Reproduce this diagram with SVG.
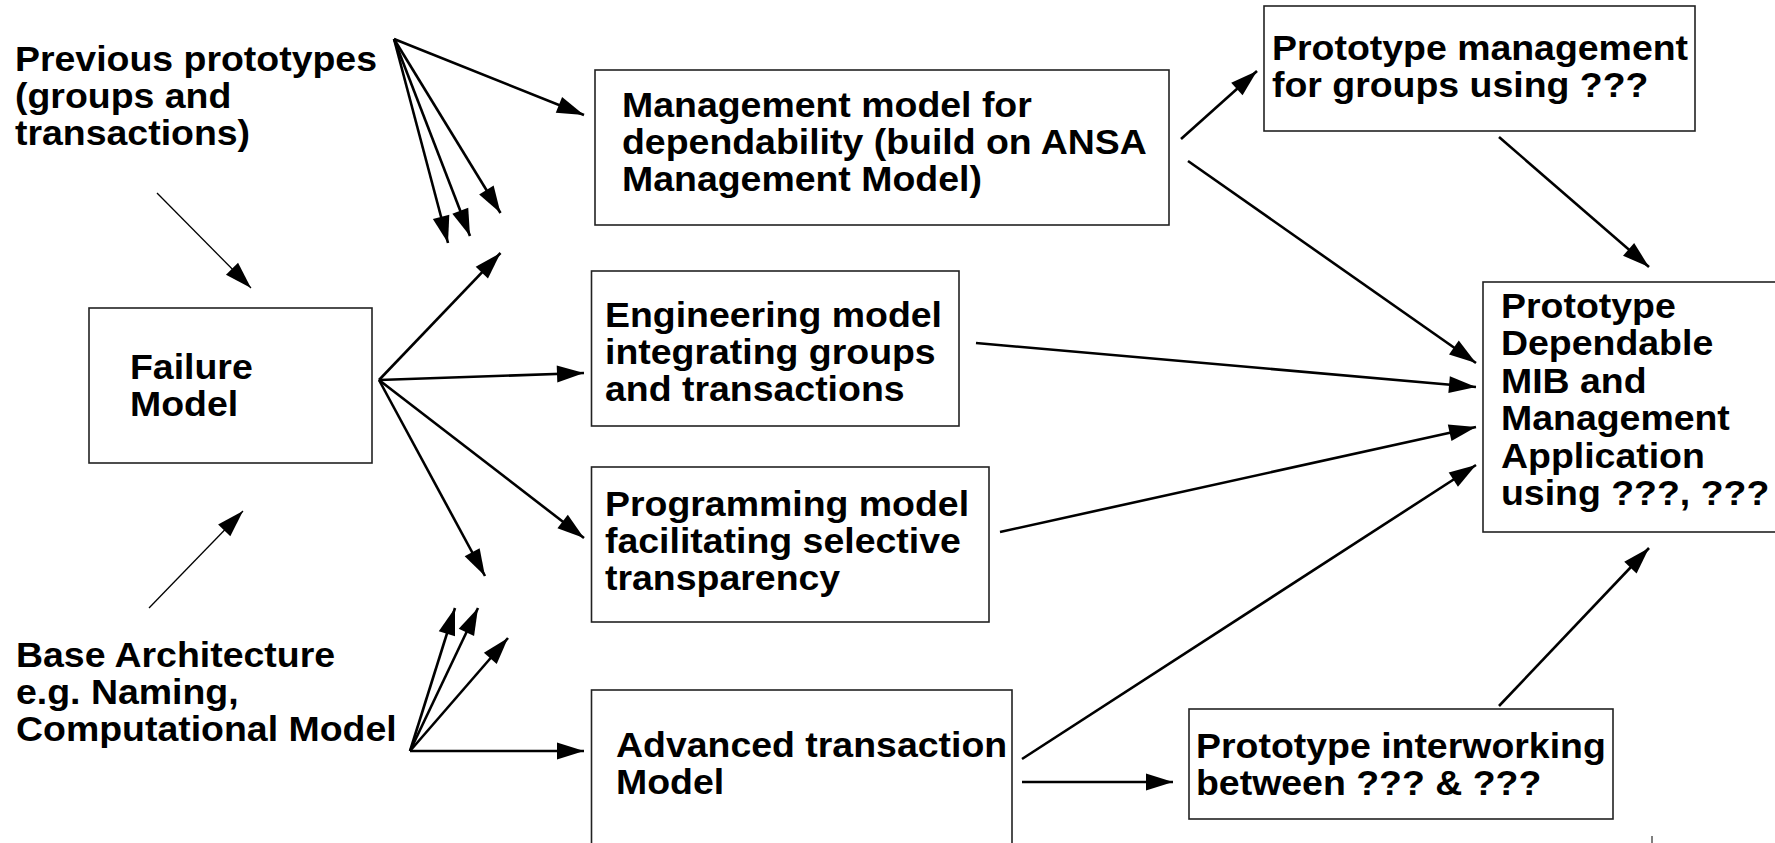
<svg xmlns="http://www.w3.org/2000/svg" width="1775" height="843" viewBox="0 0 1775 843">
<defs>
<marker id="ah" markerUnits="userSpaceOnUse" markerWidth="28" markerHeight="18" refX="27" refY="8.5" orient="auto" overflow="visible">
<path d="M0,0 L27,8.5 L0,17 z" fill="#000"/>
</marker>
<style>
.box{fill:#fff;stroke:#222;stroke-width:1.6}
.t{font-family:"Liberation Sans",Arial,Helvetica,sans-serif;font-weight:bold;font-size:35px;fill:#000}
.c{stroke:#000;stroke-width:2.6;fill:none;marker-end:url(#ah)}
.thin{stroke:#000;stroke-width:1.3;fill:none;marker-end:url(#ah)}
</style>
</defs>
<rect width="1775" height="843" fill="#fff"/>

<g id="connectors">
<line class="c" x1="394" y1="39" x2="584" y2="115"/>
<line class="c" x1="394" y1="39" x2="448" y2="243"/>
<line class="c" x1="394" y1="39" x2="470" y2="236"/>
<line class="c" x1="394" y1="39" x2="500.5" y2="213"/>
<line class="thin" x1="157" y1="193" x2="251" y2="288"/>
<line class="c" x1="379" y1="380" x2="500.5" y2="253"/>
<line class="c" x1="379" y1="380" x2="584" y2="373"/>
<line class="c" x1="379" y1="380" x2="584" y2="538"/>
<line class="c" x1="379" y1="380" x2="485" y2="576"/>
<line class="thin" x1="149" y1="608" x2="243" y2="511"/>
<line class="c" x1="410" y1="751" x2="455" y2="608"/>
<line class="c" x1="410" y1="751" x2="478" y2="608"/>
<line class="c" x1="410" y1="751" x2="508" y2="638"/>
<line class="c" x1="410" y1="751" x2="584" y2="751"/>
<line class="c" x1="1181" y1="139" x2="1257" y2="71"/>
<line class="c" x1="1188" y1="161" x2="1476" y2="363"/>
<line class="c" x1="1499" y1="137" x2="1649" y2="267"/>
<line class="c" x1="976" y1="343" x2="1476" y2="387"/>
<line class="c" x1="1000" y1="532" x2="1476" y2="427"/>
<line class="c" x1="1022" y1="759" x2="1476" y2="465"/>
<line class="c" x1="1022" y1="782" x2="1173" y2="782"/>
<line class="c" x1="1499" y1="706" x2="1649" y2="548"/>
<line x1="1652" y1="836" x2="1652" y2="843" stroke="#000" stroke-width="1"/>
</g>

<g id="previous-prototypes">
<text class="t" transform="translate(15,71) scale(1.07,1)"><tspan x="0" y="0">Previous prototypes</tspan><tspan x="0" y="37">(groups and</tspan><tspan x="0" y="74">transactions)</tspan></text>
</g>

<g id="failure-model">
<rect class="box" x="89" y="308" width="283" height="155"/>
<text class="t" transform="translate(130,379) scale(1.07,1)"><tspan x="0" y="0">Failure</tspan><tspan x="0" y="37">Model</tspan></text>
</g>

<g id="base-architecture">
<text class="t" transform="translate(16,667) scale(1.07,1)"><tspan x="0" y="0">Base Architecture</tspan><tspan x="0" y="37">e.g. Naming,</tspan><tspan x="0" y="74">Computational Model</tspan></text>
</g>

<g id="management-model">
<rect class="box" x="595" y="70" width="574" height="155"/>
<text class="t" transform="translate(622,117) scale(1.07,1)"><tspan x="0" y="0">Management model for</tspan><tspan x="0" y="37">dependability (build on ANSA</tspan><tspan x="0" y="74">Management Model)</tspan></text>
</g>

<g id="engineering-model">
<rect class="box" x="591.5" y="271" width="367.5" height="155"/>
<text class="t" transform="translate(605,327) scale(1.07,1)"><tspan x="0" y="0">Engineering model</tspan><tspan x="0" y="37">integrating groups</tspan><tspan x="0" y="74">and transactions</tspan></text>
</g>

<g id="programming-model">
<rect class="box" x="591.5" y="467" width="397.5" height="155"/>
<text class="t" transform="translate(605,516) scale(1.07,1)"><tspan x="0" y="0">Programming model</tspan><tspan x="0" y="37">facilitating selective</tspan><tspan x="0" y="74">transparency</tspan></text>
</g>

<g id="advanced-transaction">
<rect class="box" x="591.5" y="690" width="420.5" height="170"/>
<text class="t" transform="translate(616,757) scale(1.07,1)"><tspan x="0" y="0">Advanced transaction</tspan><tspan x="0" y="37">Model</tspan></text>
</g>

<g id="prototype-management">
<rect class="box" x="1264" y="6" width="431" height="125"/>
<text class="t" transform="translate(1272,60) scale(1.07,1)"><tspan x="0" y="0">Prototype management</tspan><tspan x="0" y="37">for groups using ???</tspan></text>
</g>

<g id="prototype-dependable">
<rect class="box" x="1483" y="282" width="320" height="250"/>
<text class="t" transform="translate(1501,318) scale(1.07,1)"><tspan x="0" y="0">Prototype</tspan><tspan x="0" y="37.4">Dependable</tspan><tspan x="0" y="74.8">MIB and</tspan><tspan x="0" y="112.2">Management</tspan><tspan x="0" y="149.6">Application</tspan><tspan x="0" y="187">using ???, ???</tspan></text>
</g>

<g id="prototype-interworking">
<rect class="box" x="1189" y="709" width="424" height="110"/>
<text class="t" transform="translate(1196,758) scale(1.07,1)"><tspan x="0" y="0">Prototype interworking</tspan><tspan x="0" y="37">between ??? &amp; ???</tspan></text>
</g>
</svg>
